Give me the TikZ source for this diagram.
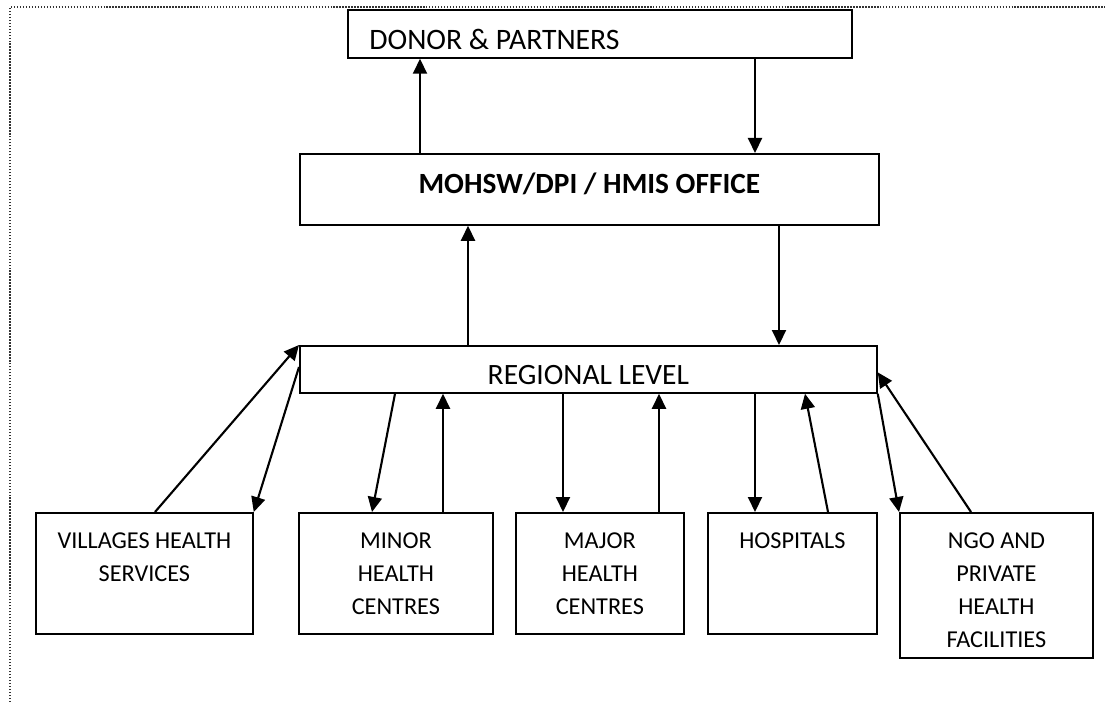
\documentclass[tikz,border=0pt]{standalone}
\usepackage{fontspec}
\setmainfont{Carlito}
\usetikzlibrary{arrows.meta}

\newcommand{\pxu}{0.02cm}

\tikzset{
  box/.style={draw, line width=1pt, anchor=north west, inner sep=0pt},
  boxtext/.style={anchor=north, yshift=-20*\pxu, align=center, inner sep=0pt,
    font=\fontsize{13.8}{18.8}\selectfont},
  flow/.style={line width=1.2pt, -{Triangle[length=0.3cm, width=0.28cm]}},
}

\begin{document}
\begin{tikzpicture}[x=\pxu, y=-\pxu]

  \useasboundingbox (0,0) rectangle (1105,702);

  % -- Page frame --
  \draw[black!80, line width=0.8pt, dash pattern=on 0.8pt off 0.9pt] (10,702) -- (10,7) -- (1105,7);

  % -- Upper levels --
  \node[box, minimum width=504*\pxu, minimum height=48*\pxu,
    label={[boxtext, anchor=north west, xshift=22*\pxu, font=\fontsize{16.9}{19}\selectfont]north west:DONOR \& PARTNERS}]
    (donor) at (347,9) {};
  \node[box, minimum width=579*\pxu, minimum height=71*\pxu,
    label={[boxtext, font=\fontsize{16.7}{19}\bfseries]north:MOHSW/DPI / HMIS OFFICE}]
    (mohsw) at (299,153) {};
  \node[box, minimum width=577*\pxu, minimum height=47*\pxu,
    label={[boxtext, font=\fontsize{16.8}{19}\selectfont]north:REGIONAL LEVEL}]
    (reg) at (299,345) {};

  % -- Service units --
  \node[box, minimum width=217*\pxu, minimum height=121*\pxu,
    label={[boxtext]north:VILLAGES HEALTH\\SERVICES}] (vhs) at (35,512) {};
  \node[box, minimum width=194*\pxu, minimum height=121*\pxu,
    label={[boxtext]north:MINOR\\HEALTH\\CENTRES}] (minor) at (298,512) {};
  \node[box, minimum width=168*\pxu, minimum height=121*\pxu,
    label={[boxtext]north:MAJOR\\HEALTH\\CENTRES}] (major) at (515,512) {};
  \node[box, minimum width=169*\pxu, minimum height=121*\pxu,
    label={[boxtext]north:HOSPITALS}] (hosp) at (707,512) {};
  \node[box, minimum width=193*\pxu, minimum height=145*\pxu,
    label={[boxtext]north:NGO AND\\PRIVATE\\HEALTH\\FACILITIES}] (ngo) at (899,512) {};

  % -- Donor <-> ministry --
  \draw[flow] ([xshift=121*\pxu]mohsw.north west) -- ([xshift=73*\pxu]donor.south west);
  \draw[flow] ([xshift=408*\pxu]donor.south west) -- ([xshift=456*\pxu]mohsw.north west);

  % -- Ministry <-> region --
  \draw[flow] ([xshift=169*\pxu]reg.north west) -- ([xshift=169*\pxu]mohsw.south west);
  \draw[flow] ([xshift=480*\pxu]mohsw.south west) -- ([xshift=480*\pxu]reg.north west);

  % -- Region <-> service units --
  \draw[flow] ([xshift=120*\pxu]vhs.north west) -- (reg.north west);
  \draw[flow] ([yshift=-22*\pxu]reg.north west) -- (vhs.north east);
  \draw[flow] ([xshift=96*\pxu]reg.south west) -- ([xshift=74*\pxu]minor.north west);
  \draw[flow] ([xshift=145*\pxu]minor.north west) -- ([xshift=144*\pxu]reg.south west);
  \draw[flow] ([xshift=264*\pxu]reg.south west) -- ([xshift=48*\pxu]major.north west);
  \draw[flow] ([xshift=144*\pxu]major.north west) -- ([xshift=360*\pxu]reg.south west);
  \draw[flow] ([xshift=456*\pxu]reg.south west) -- ([xshift=48*\pxu]hosp.north west);
  \draw[flow] ([xshift=121*\pxu]hosp.north west) -- ([xshift=506*\pxu]reg.south west);
  \draw[flow] (reg.south east) -- (ngo.north west);
  \draw[flow] ([xshift=72*\pxu]ngo.north west) -- ([yshift=-3*\pxu]reg.east);

\end{tikzpicture}
\end{document}
